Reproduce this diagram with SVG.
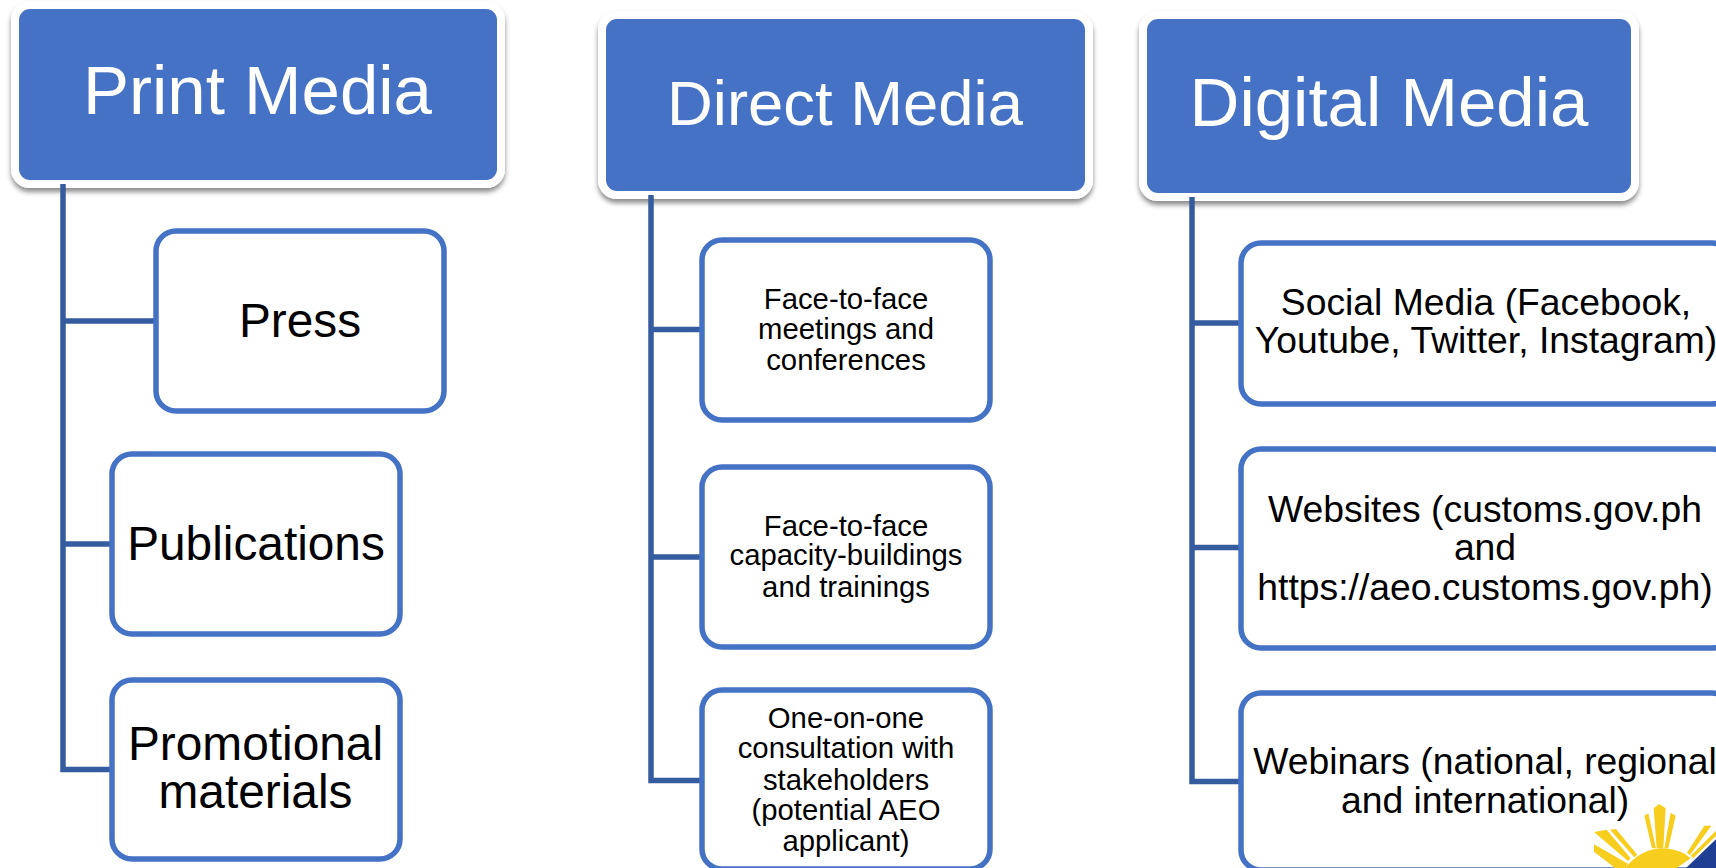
<svg xmlns="http://www.w3.org/2000/svg" width="1716" height="868" viewBox="0 0 1716 868">
<defs>
<filter id="sh" x="-5%" y="-10%" width="110%" height="125%"><feDropShadow dx="0" dy="4" stdDeviation="2.5" flood-color="#000" flood-opacity="0.45"/></filter>
</defs>
<style>
text{font-family:"Liberation Sans",Arial,sans-serif;text-anchor:middle;fill:#000}
.head rect{fill:#4472C4;stroke:#fff;stroke-width:8;filter:url(#sh)}
.head text{fill:#fff;font-size:69px}
.child rect{fill:#fff;stroke:#4472C4;stroke-width:5.5}
.conn path{fill:none;stroke:#355C9F;stroke-width:5.5}
.big{font-size:47.8px}.small{font-size:29.3px}.mid{font-size:37.3px}
.sun{fill:#F8CE1E}
</style>
<rect width="1716" height="868" fill="#fff"/>
<g id="print-media" class="head"><rect x="15" y="5" width="486" height="179" rx="15"/><text x="257.500" y="114">Print Media</text></g>
<g id="direct-media" class="head"><rect x="602" y="15" width="487" height="180" rx="15"/><text x="845" y="125" style="font-size:63.4px">Direct Media</text></g>
<g id="digital-media" class="head"><rect x="1143" y="15" width="492" height="182" rx="15"/><text x="1389" y="126">Digital Media</text></g>
<g id="connectors" class="conn">
<path d="M63 184V769.5H112M63 321H156M63 544H112"/>
<path d="M651 195V780.5H701M651 329.500H701M651 557H701"/>
<path d="M1192 197V781.500H1241M1192 323H1241M1192 547.500H1241"/>
</g>
<g id="press" class="child"><rect x="156" y="231" width="288" height="180" rx="20"/><text class="big" x="300" y="337">Press</text></g>
<g id="publications" class="child"><rect x="112" y="454" width="288" height="180" rx="20"/><text class="big" x="256" y="560">Publications</text></g>
<g id="promotional" class="child"><rect x="112" y="680" width="288" height="179" rx="20"/><text class="big"><tspan x="255.500" y="760">Promotional</tspan><tspan x="255.500" y="808">materials</tspan></text></g>
<g id="f2f-meetings" class="child"><rect x="702" y="240" width="288" height="180" rx="20"/><text class="small"><tspan x="846" y="309">Face-to-face</tspan><tspan x="846" y="339">meetings and</tspan><tspan x="846" y="370">conferences</tspan></text></g>
<g id="f2f-trainings" class="child"><rect x="702" y="467" width="288" height="180" rx="20"/><text class="small"><tspan x="846" y="536">Face-to-face</tspan><tspan x="846" y="565">capacity-buildings</tspan><tspan x="846" y="597">and trainings</tspan></text></g>
<g id="consultation" class="child"><rect x="702" y="690" width="288" height="179" rx="20"/><text class="small"><tspan x="846" y="728">One-on-one</tspan><tspan x="846" y="758">consultation with</tspan><tspan x="846" y="790">stakeholders</tspan><tspan x="846" y="820">(potential AEO</tspan><tspan x="846" y="851">applicant)</tspan></text></g>
<g id="social" class="child"><rect x="1241" y="243" width="491" height="161" rx="20"/><text class="mid"><tspan x="1486" y="315">Social Media (Facebook,</tspan><tspan x="1486" y="353">Youtube, Twitter, Instagram)</tspan></text></g>
<g id="websites" class="child"><rect x="1241" y="449" width="491" height="199" rx="20"/><text class="mid"><tspan x="1485" y="522">Websites (customs.gov.ph</tspan><tspan x="1485" y="560">and</tspan><tspan x="1485" y="600">https://aeo.customs.gov.ph)</tspan></text></g>
<g id="webinars" class="child"><rect x="1241" y="693" width="491" height="177" rx="20"/><text class="mid"><tspan x="1485" y="774">Webinars (national, regional</tspan><tspan x="1485" y="813">and international)</tspan></text></g>
<g id="sun" transform="translate(1500 680) scale(.33333)">
<path class="sun" d="M375 564Q420 510 480 505Q525 505 555 522L572 535L530 564Z"/>
<path class="sun" d="M478 372L497 385L490 505H470L461 385Z"/>
<path class="sun" d="M433 407L445 400L468 505H456Z"/>
<path class="sun" d="M512 398L527 407L505 505H493Z"/>
<path class="sun" d="M330 449L348 447L412 524L403 532Z"/>
<path class="sun" d="M282 456L320 449L392 535L384 543Z"/>
<path class="sun" d="M282 493L384 551L375 564H345L282 515Z"/>
<path class="sun" d="M613 437H634L570 525L561 518Z"/>
<path class="sun" d="M648 452V468L580 534L572 528Z"/>
<path d="M558 564L648 478V564Z" fill="#1F3F93"/>
</g>
</svg>
